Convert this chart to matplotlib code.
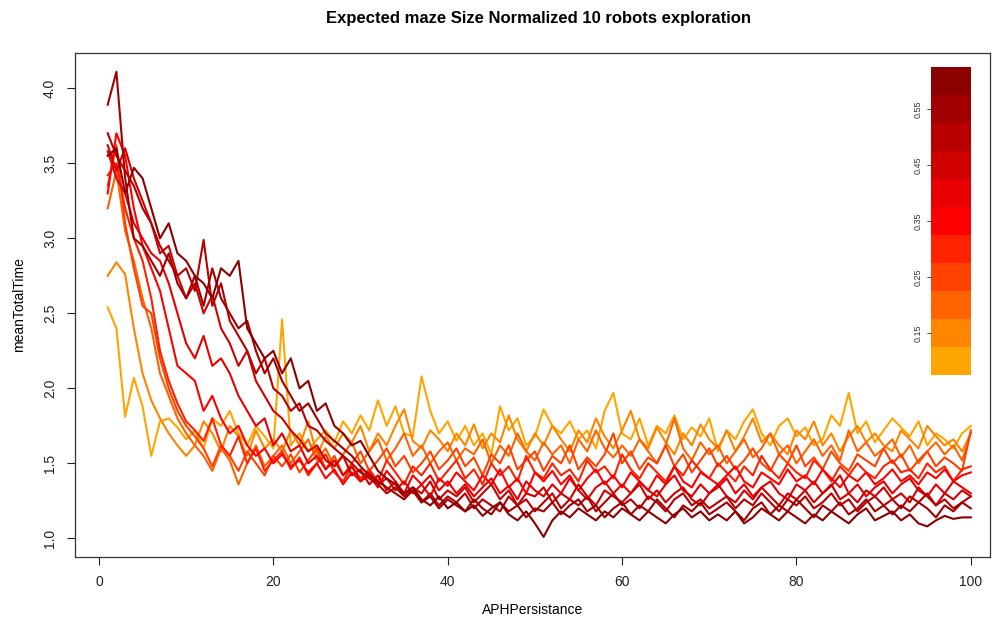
import numpy as np
import matplotlib
matplotlib.use("Agg")
import matplotlib.pyplot as plt

plt.rcParams['font.family'] = ['Liberation Sans', 'DejaVu Sans']

# persistance steps 1..100
aph = list(range(1, 101))

# parameter value of each curve (colour key) and colour ramp orange -> red -> darkred
levels = [0.10, 0.15, 0.20, 0.25, 0.30, 0.35, 0.40, 0.45, 0.50, 0.55, 0.60]
colors = ['#FFA500', '#FF8400', '#FF6300', '#FF4200', '#FF2100', '#FF0000',
          '#E80000', '#D10000', '#B90000', '#A20000', '#8B0000']
cb_ticks = [0.15, 0.25, 0.35, 0.45, 0.55]

t_010 = [2.54, 2.40, 1.81, 2.07, 1.88, 1.55, 1.78, 1.80, 1.74, 1.66,
         1.72, 1.60, 1.80, 1.75, 1.85, 1.70, 1.62, 1.75, 1.68, 1.60,
         2.46, 1.62, 1.70, 1.58, 1.66, 1.72, 1.64, 1.78, 1.70, 1.82,
         1.72, 1.92, 1.75, 1.88, 1.70, 1.68, 2.08, 1.85, 1.70, 1.78,
         1.65, 1.75, 1.62, 1.70, 1.56, 1.88, 1.72, 1.80, 1.62, 1.68,
         1.86, 1.75, 1.70, 1.78, 1.66, 1.72, 1.60, 1.85, 1.97, 1.70,
         1.66, 1.80, 1.62, 1.75, 1.70, 1.82, 1.66, 1.74, 1.68, 1.80,
         1.58, 1.72, 1.66, 1.78, 1.86, 1.70, 1.62, 1.75, 1.80, 1.68,
         1.74, 1.62, 1.66, 1.82, 1.75, 1.97, 1.70, 1.78, 1.64, 1.72,
         1.80, 1.74, 1.68, 1.78, 1.62, 1.70, 1.66, 1.60, 1.70, 1.75]
t_015 = [2.75, 2.84, 2.76, 2.40, 2.10, 1.92, 1.80, 1.70, 1.62, 1.55,
         1.62, 1.78, 1.70, 1.58, 1.75, 1.68, 1.55, 1.72, 1.60, 1.66,
         1.58, 1.72, 1.62, 1.78, 1.55, 1.68, 1.60, 1.70, 1.64, 1.75,
         1.58, 1.70, 1.62, 1.75, 1.86, 1.65, 1.60, 1.72, 1.66, 1.58,
         1.70, 1.62, 1.76, 1.60, 1.70, 1.64, 1.82, 1.66, 1.58, 1.70,
         1.62, 1.75, 1.66, 1.58, 1.72, 1.64, 1.80, 1.68, 1.60, 1.72,
         1.85, 1.66, 1.60, 1.74, 1.64, 1.56, 1.70, 1.62, 1.76, 1.66,
         1.60, 1.72, 1.58, 1.68, 1.80, 1.64, 1.70, 1.62, 1.56, 1.72,
         1.66, 1.78, 1.62, 1.70, 1.58, 1.68, 1.75, 1.64, 1.70, 1.62,
         1.58, 1.72, 1.66, 1.60, 1.75, 1.68, 1.62, 1.66, 1.58, 1.70]
t_020 = [3.20, 3.45, 3.05, 2.85, 2.60, 2.40, 2.10, 1.95, 1.80, 1.70,
         1.62, 1.55, 1.45, 1.60, 1.52, 1.36, 1.50, 1.62, 1.48, 1.55,
         1.62, 1.50, 1.58, 1.66, 1.52, 1.60, 1.48, 1.56, 1.64, 1.50,
         1.58, 1.66, 1.52, 1.60, 1.70, 1.55, 1.62, 1.50, 1.58, 1.64,
         1.52, 1.60, 1.56, 1.66, 1.50, 1.62, 1.55, 1.70, 1.58, 1.52,
         1.64, 1.56, 1.62, 1.50, 1.66, 1.58, 1.72, 1.60, 1.54, 1.62,
         1.55, 1.66, 1.58, 1.50, 1.62, 1.80, 1.60, 1.52, 1.64, 1.56,
         1.62, 1.50, 1.58, 1.66, 1.54, 1.60, 1.70, 1.56, 1.62, 1.50,
         1.58, 1.66, 1.55, 1.62, 1.52, 1.72, 1.58, 1.64, 1.55, 1.60,
         1.66, 1.54, 1.62, 1.50, 1.58, 1.64, 1.56, 1.62, 1.52, 1.70]
t_025 = [3.35, 3.62, 3.10, 2.80, 2.55, 2.50, 2.20, 2.00, 1.85, 1.75,
         1.68, 1.60, 1.48, 1.62, 1.55, 1.45, 1.58, 1.50, 1.42, 1.55,
         1.48, 1.56, 1.44, 1.52, 1.60, 1.46, 1.55, 1.42, 1.50, 1.58,
         1.45, 1.52, 1.60, 1.48, 1.55, 1.44, 1.50, 1.58, 1.46, 1.52,
         1.60, 1.48, 1.54, 1.42, 1.56, 1.50, 1.62, 1.46, 1.52, 1.58,
         1.45, 1.55, 1.50, 1.62, 1.46, 1.54, 1.48, 1.56, 1.70, 1.50,
         1.58, 1.46, 1.54, 1.50, 1.62, 1.48, 1.56, 1.44, 1.52, 1.60,
         1.48, 1.55, 1.46, 1.52, 1.60, 1.50, 1.45, 1.56, 1.50, 1.62,
         1.48, 1.54, 1.46, 1.58, 1.50, 1.45, 1.56, 1.52, 1.48, 1.60,
         1.50, 1.56, 1.45, 1.52, 1.58, 1.48, 1.54, 1.50, 1.45, 1.72]
t_030 = [3.42, 3.50, 3.20, 3.00, 2.85, 2.60, 2.25, 2.05, 1.90, 1.78,
         1.72, 1.65, 1.80, 1.62, 1.55, 1.68, 1.50, 1.60, 1.45, 1.52,
         1.58, 1.46, 1.54, 1.42, 1.50, 1.56, 1.44, 1.38, 1.48, 1.40,
         1.46, 1.38, 1.52, 1.44, 1.36, 1.48, 1.42, 1.50, 1.38, 1.45,
         1.52, 1.40, 1.46, 1.36, 1.50, 1.42, 1.48, 1.38, 1.55, 1.44,
         1.40, 1.50, 1.42, 1.46, 1.38, 1.52, 1.44, 1.48, 1.40, 1.56,
         1.46, 1.40, 1.50, 1.44, 1.38, 1.48, 1.42, 1.52, 1.45, 1.40,
         1.50, 1.44, 1.38, 1.48, 1.42, 1.55, 1.46, 1.40, 1.50, 1.44,
         1.40, 1.52, 1.46, 1.38, 1.48, 1.42, 1.50, 1.44, 1.40, 1.48,
         1.52, 1.44, 1.46, 1.40, 1.50, 1.44, 1.48, 1.38, 1.46, 1.48]
t_035 = [3.30, 3.70, 3.55, 3.20, 2.95, 2.80, 2.65, 2.40, 2.15, 2.10,
         2.05, 1.85, 1.95, 1.80, 1.70, 1.75, 1.62, 1.55, 1.60, 1.50,
         1.56, 1.48, 1.52, 1.44, 1.50, 1.40, 1.46, 1.36, 1.44, 1.38,
         1.42, 1.34, 1.45, 1.38, 1.30, 1.42, 1.36, 1.28, 1.40, 1.35,
         1.44, 1.38, 1.32, 1.42, 1.36, 1.46, 1.34, 1.40, 1.30, 1.44,
         1.38, 1.45, 1.36, 1.42, 1.32, 1.40, 1.46, 1.36, 1.42, 1.34,
         1.44, 1.38, 1.32, 1.42, 1.36, 1.48, 1.38, 1.34, 1.44, 1.40,
         1.36, 1.42, 1.48, 1.38, 1.34, 1.44, 1.40, 1.36, 1.46, 1.38,
         1.42, 1.36, 1.46, 1.40, 1.34, 1.42, 1.38, 1.44, 1.36, 1.40,
         1.46, 1.38, 1.42, 1.36, 1.44, 1.40, 1.46, 1.38, 1.42, 1.44]
t_040 = [3.58, 3.40, 3.30, 3.10, 3.00, 2.90, 2.85, 2.70, 2.50, 2.30,
         2.20, 2.35, 2.15, 2.20, 2.10, 1.95, 1.85, 1.75, 1.80, 1.62,
         1.70, 1.58, 1.62, 1.50, 1.55, 1.46, 1.52, 1.42, 1.48, 1.38,
         1.44, 1.36, 1.40, 1.32, 1.38, 1.30, 1.36, 1.42, 1.32, 1.38,
         1.30, 1.36, 1.28, 1.34, 1.40, 1.30, 1.35, 1.26, 1.38, 1.32,
         1.28, 1.36, 1.30, 1.40, 1.32, 1.26, 1.34, 1.38, 1.30, 1.36,
         1.30, 1.38, 1.32, 1.28, 1.36, 1.42, 1.32, 1.28, 1.36, 1.30,
         1.34, 1.40, 1.30, 1.36, 1.28, 1.34, 1.38, 1.30, 1.26, 1.36,
         1.32, 1.38, 1.30, 1.35, 1.42, 1.30, 1.36, 1.28, 1.34, 1.38,
         1.30, 1.36, 1.40, 1.32, 1.28, 1.36, 1.30, 1.38, 1.34, 1.30]
t_045 = [3.62, 3.45, 3.60, 3.40, 3.25, 3.10, 2.90, 2.95, 2.75, 2.60,
         2.70, 2.50, 2.62, 2.40, 2.30, 2.15, 2.25, 2.05, 1.95, 1.85,
         1.80, 1.72, 1.66, 1.58, 1.62, 1.52, 1.48, 1.55, 1.42, 1.46,
         1.36, 1.42, 1.32, 1.38, 1.28, 1.34, 1.30, 1.38, 1.26, 1.32,
         1.28, 1.34, 1.24, 1.30, 1.36, 1.26, 1.32, 1.22, 1.30, 1.28,
         1.34, 1.24, 1.30, 1.26, 1.36, 1.28, 1.22, 1.32, 1.28, 1.24,
         1.30, 1.36, 1.26, 1.32, 1.24, 1.30, 1.34, 1.26, 1.22, 1.30,
         1.36, 1.28, 1.24, 1.32, 1.26, 1.34, 1.28, 1.22, 1.30, 1.26,
         1.32, 1.24, 1.30, 1.36, 1.26, 1.30, 1.24, 1.32, 1.28, 1.34,
         1.26, 1.30, 1.24, 1.34, 1.28, 1.22, 1.30, 1.26, 1.32, 1.28]
t_050 = [3.70, 3.55, 3.45, 3.35, 3.20, 3.10, 2.95, 2.85, 2.75, 2.80,
         2.65, 2.99, 2.55, 2.70, 2.45, 2.35, 2.25, 2.10, 2.20, 2.00,
         1.95, 1.85, 1.90, 1.75, 1.72, 1.65, 1.60, 1.55, 1.50, 1.44,
         1.40, 1.36, 1.30, 1.34, 1.28, 1.32, 1.24, 1.30, 1.22, 1.28,
         1.24, 1.30, 1.20, 1.26, 1.22, 1.18, 1.28, 1.22, 1.26, 1.18,
         1.24, 1.30, 1.20, 1.26, 1.22, 1.28, 1.18, 1.24, 1.30, 1.22,
         1.26, 1.20, 1.28, 1.24, 1.18, 1.26, 1.30, 1.22, 1.26, 1.20,
         1.24, 1.28, 1.20, 1.26, 1.22, 1.30, 1.24, 1.18, 1.26, 1.22,
         1.28, 1.20, 1.24, 1.30, 1.22, 1.26, 1.18, 1.24, 1.28, 1.22,
         1.26, 1.20, 1.28, 1.24, 1.30, 1.22, 1.26, 1.20, 1.24, 1.28]
t_055 = [3.89, 4.11, 3.40, 3.00, 2.95, 2.85, 2.75, 2.90, 2.70, 2.60,
         2.75, 2.55, 2.80, 2.60, 2.50, 2.40, 2.45, 2.25, 2.10, 2.20,
         2.05, 1.95, 1.85, 1.90, 1.80, 1.70, 1.65, 1.60, 1.55, 1.48,
         1.42, 1.38, 1.34, 1.30, 1.26, 1.32, 1.24, 1.28, 1.20, 1.26,
         1.22, 1.18, 1.26, 1.20, 1.16, 1.24, 1.18, 1.22, 1.14, 1.20,
         1.18, 1.24, 1.16, 1.22, 1.26, 1.18, 1.22, 1.14, 1.20, 1.24,
         1.16, 1.22, 1.18, 1.26, 1.20, 1.14, 1.22, 1.18, 1.24, 1.16,
         1.20, 1.24, 1.18, 1.12, 1.20, 1.24, 1.16, 1.22, 1.18, 1.26,
         1.20, 1.14, 1.22, 1.18, 1.24, 1.16, 1.20, 1.26, 1.18, 1.22,
         1.16, 1.22, 1.18, 1.24, 1.20, 1.14, 1.22, 1.18, 1.24, 1.20]
t_060 = [3.55, 3.60, 3.30, 3.47, 3.40, 3.20, 3.00, 3.10, 2.90, 2.85,
         2.75, 2.70, 2.60, 2.80, 2.75, 2.85, 2.40, 2.30, 2.20, 2.25,
         2.10, 2.20, 2.00, 2.05, 1.85, 1.90, 1.75, 1.70, 1.62, 1.65,
         1.55, 1.45, 1.40, 1.36, 1.30, 1.34, 1.26, 1.22, 1.28, 1.20,
         1.24, 1.18, 1.22, 1.15, 1.20, 1.24, 1.16, 1.12, 1.18, 1.10,
         1.01, 1.12, 1.18, 1.14, 1.20, 1.16, 1.12, 1.18, 1.14, 1.20,
         1.16, 1.12, 1.18, 1.14, 1.10, 1.16, 1.20, 1.14, 1.18, 1.12,
         1.16, 1.12, 1.18, 1.10, 1.14, 1.20, 1.16, 1.12, 1.18, 1.14,
         1.10, 1.16, 1.12, 1.18, 1.14, 1.10, 1.16, 1.20, 1.12, 1.15,
         1.18, 1.12, 1.16, 1.10, 1.08, 1.12, 1.15, 1.13, 1.14, 1.14]

series = [t_010, t_015, t_020, t_025, t_030, t_035, t_040, t_045, t_050, t_055, t_060]

fig = plt.figure(figsize=(9.93, 6.21), dpi=100)
ax = fig.add_axes([75 / 993, 1 - 557 / 621, 915 / 993, 504 / 621])

for vals, col in zip(series, colors):
    ax.plot(aph, vals, color=col, linewidth=1.5)

ax.set_xlim(-2.75, 102.2)
ax.set_ylim(0.876, 4.235)
ax.set_xticks([0, 20, 40, 60, 80, 100])
ax.set_yticks([1.0, 1.5, 2.0, 2.5, 3.0, 3.5, 4.0])
ax.set_yticklabels(['1.0', '1.5', '2.0', '2.5', '3.0', '3.5', '4.0'],
                   rotation=90, va='center')
ax.tick_params(direction='out', length=6, width=0.8, labelsize=10, colors='#222222', pad=7)
for s in ax.spines.values():
    s.set_linewidth(0.9)
    s.set_color('#333333')

ax.set_xlabel('APHPersistance', fontsize=10, labelpad=10)
ax.set_ylabel('meanTotalTime', fontsize=10, labelpad=12)
fig.text(0.542, 1 - 19 / 621, 'Expected maze Size Normalized 10 robots exploration',
         ha='center', va='center', fontsize=12, fontweight='bold')

# colour key inside the plot region
cax = fig.add_axes([931 / 993, 1 - 375 / 621, 40 / 993, 308 / 621])
cax.bar([0] * len(levels), [0.05] * len(levels),
        bottom=[lv - 0.025 for lv in levels], width=1.0, color=colors, linewidth=0)
cax.set_xlim(-0.5, 0.5)
cax.set_ylim(levels[0] - 0.025, levels[-1] + 0.025)
cax.set_xticks([])
cax.set_yticks(cb_ticks)
cax.set_yticklabels([f'{t:.2f}' for t in cb_ticks], rotation=90, va='center', fontsize=6.5)
cax.tick_params(axis='y', length=3, width=0.6, pad=3, colors='#333333')
for s in cax.spines.values():
    s.set_visible(False)

fig.savefig('out.png', dpi=100)
